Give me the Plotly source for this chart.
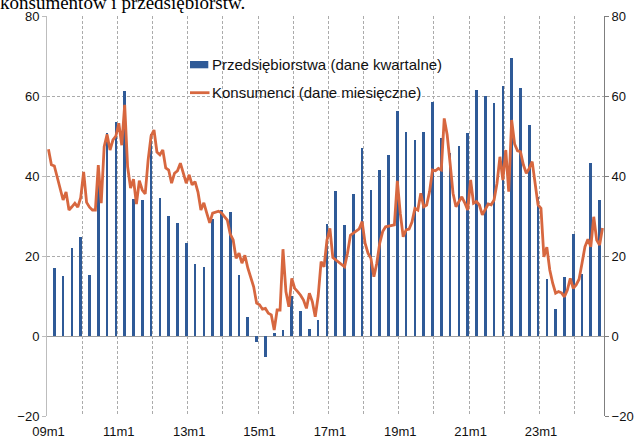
import plotly.graph_objects as go

# ---------------- data ----------------
years = list(range(2009, 2025))
# monthly categories 09m1 ... 24m10
months = [f"{y % 100:02d}m{m}" for y in years for m in range(1, 13)][:190]

# consumers (monthly)
konsumenci = [
    46.7, 42.8, 42.5, 39.8, 37.0, 34.0, 36.0, 31.5, 32.3, 33.2,
    32.2, 34.6, 41.0, 33.4, 32.2, 31.5, 31.5, 42.7, 33.2, 47.3,
    50.4, 46.5, 49.0, 50.0, 53.2, 47.7, 57.8, 42.3, 37.0, 39.2,
    33.0, 38.8, 36.5, 35.5, 44.0, 50.0, 51.5, 46.0, 45.3, 46.5,
    42.0, 41.5, 38.2, 40.7, 41.3, 43.2, 40.7, 38.2, 40.3, 37.8,
    38.6, 36.0, 31.5, 33.3, 30.7, 28.3, 30.7, 31.0, 31.2, 30.8,
    29.8, 29.0, 25.5, 24.0, 19.4, 20.7, 18.2, 20.2, 17.0, 14.5,
    12.3, 8.2, 7.8, 6.7, 6.9, 5.7, 5.3, 1.5, 6.5, 6.5,
    21.7, 11.1, 7.3, 14.4, 11.9, 11.1, 10.2, 9.0, 6.9, 10.7,
    8.6, 4.8, 10.0, 18.6, 17.3, 24.0, 26.9, 19.6, 19.0, 18.6,
    18.0, 17.3, 20.7, 25.2, 25.7, 26.2, 26.8, 28.6, 23.2, 20.7,
    19.4, 14.8, 18.2, 23.2, 26.1, 27.3, 27.5, 27.6, 27.8, 38.8,
    30.7, 24.8, 26.5, 26.7, 28.5, 31.9, 31.5, 35.7, 32.3, 32.75,
    36.1, 41.5, 41.3, 41.9, 41.5, 54.4, 50.3, 43.2, 35.7, 32.3,
    33.6, 34.8, 33.3, 31.5, 39.0, 33.2, 33.6, 32.75, 30.3, 31.5,
    33.0, 32.8, 34.0, 38.2, 44.8, 39.0, 46.5, 36.1, 54.0, 48.0,
    46.3, 46.1, 42.8, 40.7, 41.9, 43.6, 38.2, 32.75, 31.9, 19.8,
    22.2, 16.5, 13.2, 10.7, 11.1, 10.8, 9.8, 11.5, 14.4, 11.9,
    12.75, 14.2, 18.2, 22.3, 24.2, 22.3, 29.8, 24.0, 22.75, 27.0,
]

# enterprises (quarterly), shown at the last month of each quarter
przedsiebiorstwa = [
    16.9, 15.0, 21.9, 24.75, 15.2, 40.0, 50.7, 53.5, 61.25, 34.2,
    34.0, 50.5, 34.4, 30.1, 28.2, 23.25, 18.0, 17.3, 29.2, 31.4,
    31.0, 15.2, 4.7, -1.6, -5.3, 0.8, 1.5, 10.1, 6.25, 1.7,
    4.0, 28.0, 36.3, 27.7, 35.6, 47.1, 36.5, 41.6, 45.2, 56.2,
    51.0, 48.9, 51.0, 58.5, 49.4, 45.7, 47.6, 50.8, 61.5, 60.1,
    58.3, 62.5, 69.6, 62.1, 52.75, 34.8, 14.3, 6.75, 14.8, 25.5,
    15.6, 43.2, 34.0,
]

# positions of the monthly categories on the axis (one slot per month)
mpos = list(range(len(months)))
qpos = mpos[2::3]            # last month of each quarter
label_pos = mpos[::24]       # every second January
label_text = months[::24]    # 09m1, 11m1, ..., 23m1

legend_labels = ["Przedsiębiorstwa (dane kwartalne)", "Konsumenci (dane miesięczne)"]
caption = "konsumentów i przedsiębiorstw."

# ---------------- style ----------------
BLUE = "#2F5A97"
ORANGE = "#D7673F"
GRID = "#ABABAB"
FONT = "Liberation Sans, Arial, sans-serif"
W, H = 641, 441
ML, MR, MT, MB = 47, 37, 16, 25
PW, PH = W - ML - MR, H - MT - MB


def px(x):
    return (x - ML) / PW


def py(y):
    return (H - MB - y) / PH


fig = go.Figure()
fig.add_trace(go.Bar(x=qpos, y=przedsiebiorstwa, width=0.9,
                     customdata=months[2::3], hovertemplate="%{customdata}: %{y}<extra></extra>",
                     marker=dict(color=BLUE, line=dict(width=0)),
                     name=legend_labels[0], showlegend=False))
fig.add_trace(go.Scatter(x=mpos, y=konsumenci, mode="lines",
                         customdata=months, hovertemplate="%{customdata}: %{y}<extra></extra>",
                         line=dict(color=ORANGE, width=2.8),
                         name=legend_labels[1], showlegend=False))
# empty trace so that the mirrored right-hand axis is drawn
fig.add_trace(go.Scatter(x=[0], y=[None], yaxis="y2", mode="lines",
                         showlegend=False, hoverinfo="skip"))

shapes = [
    dict(type="rect", xref="paper", yref="paper",
         x0=px(190), x1=px(208.3), y0=py(68.3), y1=py(61),
         fillcolor=BLUE, line=dict(width=0)),
    dict(type="line", xref="paper", yref="paper",
         x0=px(190), x1=px(209.5), y0=py(92.7), y1=py(92.7),
         line=dict(color=ORANGE, width=2.8)),
]
annotations = [
    dict(xref="paper", yref="paper", x=px(209.5), y=py(64.7), xanchor="left",
         yanchor="middle", text=legend_labels[0], showarrow=False,
         font=dict(family=FONT, size=15, color="#111111")),
    dict(xref="paper", yref="paper", x=px(209.5), y=py(92.7), xanchor="left",
         yanchor="middle", text=legend_labels[1], showarrow=False,
         font=dict(family=FONT, size=15, color="#111111")),
    dict(xref="paper", yref="paper", x=px(-2), y=py(2.0), xanchor="left",
         yanchor="middle", text=caption, showarrow=False,
         font=dict(family="Liberation Serif, Times New Roman, serif", size=19,
                   color="#000000")),
]

fig.update_layout(
    width=W, height=H,
    margin=dict(l=ML, r=MR, t=MT, b=MB, pad=0, autoexpand=False),
    paper_bgcolor="white", plot_bgcolor="white",
    font=dict(family=FONT, size=13, color="#111111"),
    showlegend=False,
    bargap=0,
    xaxis=dict(
        type="linear", range=[-0.5, len(months) - 0.5], automargin=False,
        tickmode="array", tickvals=label_pos, ticktext=label_text,
        ticks="", tickangle=0, showgrid=False, ticklabelstandoff=6,
        minor=dict(tickmode="linear", tick0=-0.5, dtick=12, ticks="",
                   showgrid=True, gridcolor=GRID, gridwidth=1,
                   griddash="3px,2px"),
        showline=False, zeroline=False,
        tickfont=dict(family=FONT, size=13, color="#111111"),
    ),
    yaxis=dict(
        range=[-20, 80], tick0=0, dtick=20, automargin=False,
        showgrid=True, gridcolor=GRID, gridwidth=1, griddash="3px,2px",
        zeroline=True, zerolinecolor="#A0A0A0", zerolinewidth=1,
        showline=True, linecolor="#BDBDBD", linewidth=1,
        ticks="outside", ticklen=4, tickcolor="#BDBDBD",
        tickfont=dict(family=FONT, size=13, color="#111111"),
    ),
    yaxis2=dict(
        overlaying="y", side="right", range=[-20, 80], tick0=0, dtick=20,
        automargin=False,
        showgrid=False, zeroline=False,
        showline=True, linecolor="#7F7F7F", linewidth=1,
        ticks="outside", ticklen=4, tickcolor="#7F7F7F",
        tickfont=dict(family=FONT, size=13, color="#111111"),
    ),
    shapes=shapes,
    annotations=annotations,
)

fig.write_html("out.html",
               config={"displayModeBar": False},
               post_script="document.body.style.margin='0px';"
                           "document.body.style.overflow='hidden';")
